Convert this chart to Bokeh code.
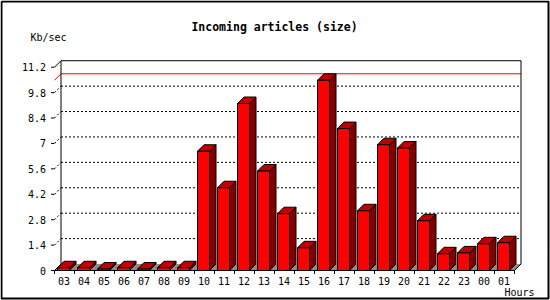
from bokeh.plotting import figure
from bokeh.models import Range1d
from bokeh.core.properties import value
from bokeh.embed import file_html
from bokeh.resources import INLINE

# ---- data ----
hours = ["03", "04", "05", "06", "07", "08", "09", "10", "11", "12", "13", "14",
         "15", "16", "17", "18", "19", "20", "21", "22", "23", "00", "01"]
kbsec = [0.15, 0.15, 0.08, 0.15, 0.08, 0.15, 0.15, 6.57, 4.56, 9.20, 5.48, 3.13,
         1.25, 10.48, 7.82, 3.29, 6.93, 6.75, 2.74, 0.92, 0.97, 1.47, 1.53]
y_ticks = [0, 1.4, 2.8, 4.2, 5.6, 7, 8.4, 9.8, 11.2]
y_tick_labels = ["0", "1.4", "2.8", "4.2", "5.6", "7", "8.4", "9.8", "11.2"]
title_text = "Incoming articles (size)"
y_title = "Kb/sec"
x_title = "Hours"

# ---- layout (pixel geometry) ----
W, H = 550, 300
X0, SX = 54.0, 20.0      # pixel of x=0, pixels per category
Y0, SY = 270.0, 18.15    # pixel of value 0, pixels per unit
D = 6.5                  # 3D depth in pixels
DX, DY = D / SX, D / SY


def xd(px):
    return (px - X0) / SX


def yd(py):
    return (Y0 - py) / SY


FONT = value("DejaVu Sans Mono")

p = figure(width=W, height=H, x_range=Range1d(xd(0), xd(W)), y_range=Range1d(yd(H), yd(0)),
           output_backend="svg", toolbar_location=None, min_border=0,
           x_axis_type=None, y_axis_type=None)
p.outline_line_color = None
p.background_fill_color = "white"
p.border_fill_color = "white"

n = len(hours)
ymax = y_ticks[-1]

# floor (grey)
p.patch([0, n, n + DX, DX], [0, 0, DY, DY], fill_color="#8c8c8c", line_color=None)

# gridlines on back wall (dotted)
mid = y_ticks[1:-1]
p.multi_line(xs=[[DX, n + DX] for t in mid], ys=[[t + DY, t + DY] for t in mid],
             line_color="black", line_width=1, line_dash="2 2")
# depth diagonals at left for each tick
p.multi_line(xs=[[0, DX] for t in mid], ys=[[t, t + DY] for t in mid],
             line_color="black", line_width=1, line_dash="2 2")

# max line (red)
vmax = max(kbsec)
p.line([0, DX, n + DX], [vmax, vmax + DY, vmax + DY], line_color="#ff0000", line_width=1)

# back wall frame
p.line([0, DX, DX, n + DX, n + DX], [ymax, ymax + DY, DY, DY, DY], line_color=None)
p.line([DX, DX, n + DX, n + DX], [DY, ymax + DY, ymax + DY, DY], line_color="black", line_width=1)
p.line([0, DX], [ymax, ymax + DY], line_color="black", line_width=1)

# floor outline / x axis
p.line([DX, 0, n, n + DX], [DY, 0, 0, DY], line_color="black", line_width=1)

# bars
lefts = [i + 0.15 for i in range(n)]
rights = [i + 0.75 for i in range(n)]
p.patches(xs=[[r, r + DX, r + DX, r] for r in rights],
          ys=[[0, DY, v + DY, v] for v in kbsec],
          fill_color="#800000", line_color="black", line_width=1)
p.patches(xs=[[l, r, r + DX, l + DX] for l, r in zip(lefts, rights)],
          ys=[[v, v, v + DY, v + DY] for v in kbsec],
          fill_color="#c00000", line_color="black", line_width=1)
p.quad(left=lefts, right=rights, bottom=0, top=kbsec,
       fill_color="#ff0000", line_color="black", line_width=1)

# axis ticks
p.multi_line(xs=[[k, k] for k in range(n + 1)], ys=[[0, yd(273.5)] for k in range(n + 1)],
             line_color="black", line_width=1)
p.multi_line(xs=[[xd(50.5), 0] for t in y_ticks], ys=[[t, t] for t in y_ticks],
             line_color="black", line_width=1)

# tick labels
p.text(x=[i + 0.47 for i in range(n)], y=[yd(280)] * n, text=hours,
       text_font=FONT, text_font_size="10px", text_align="center",
       text_baseline="middle", text_color="black")
p.text(x=[xd(45.5)] * len(y_ticks), y=y_ticks, text=y_tick_labels,
       text_font=FONT, text_font_size="10px", text_align="right",
       text_baseline="middle", text_color="black")

# titles
p.text(x=[xd(274)], y=[yd(26.5)], text=[title_text], text_font=FONT,
       text_font_size="11.5px", text_font_style="bold", text_align="center",
       text_baseline="middle", text_color="black")
p.text(x=[xd(30)], y=[yd(36.7)], text=[y_title], text_font=FONT,
       text_font_size="10px", text_align="left", text_baseline="middle", text_color="black")
p.text(x=[xd(504)], y=[yd(292.3)], text=[x_title], text_font=FONT,
       text_font_size="10px", text_align="left", text_baseline="middle", text_color="black")

# outer border
p.line([xd(1), xd(548), xd(548), xd(1), xd(1)], [yd(1), yd(1), yd(298), yd(298), yd(1)],
       line_color="black", line_width=2)

open("out.html", "w").write(file_html(p, INLINE))
